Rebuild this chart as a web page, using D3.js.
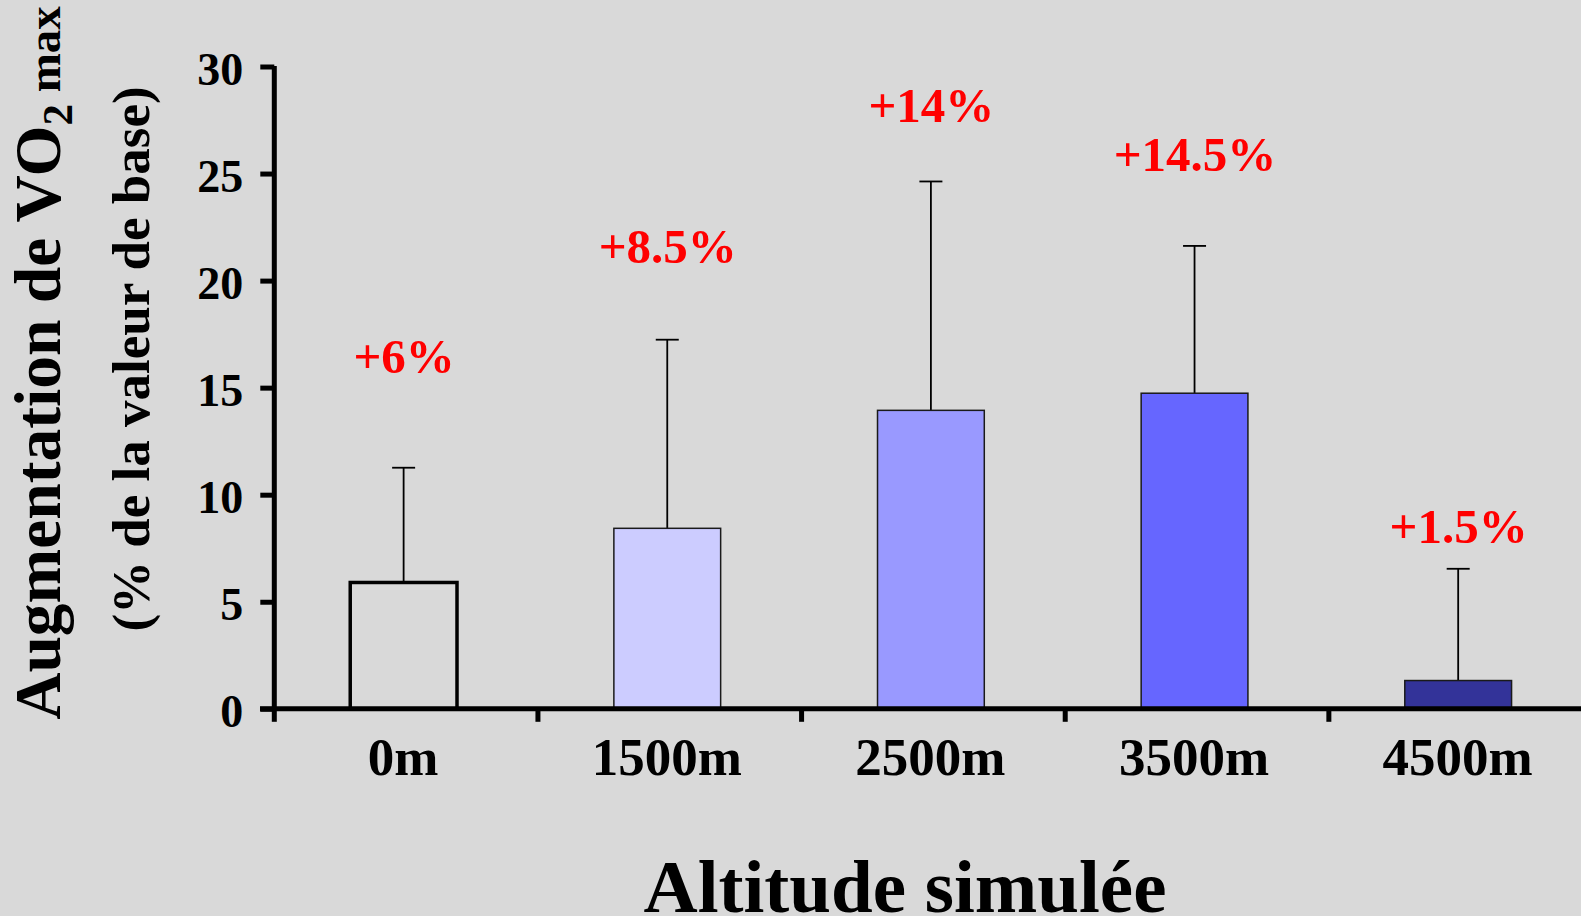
<!DOCTYPE html>
<html>
<head>
<meta charset="utf-8">
<script src="https://cdn.jsdelivr.net/npm/d3@7"></script>
<style>
  html, body { margin: 0; padding: 0; background: #d9d9d9; }
  svg { display: block; }
  text { font-family: "Liberation Serif", "Times New Roman", serif; font-weight: bold; }
</style>
</head>
<body>
<svg id="chart" width="1581" height="916"></svg>
<script>
// ---- data ----
const categories = ["0m", "1500m", "2500m", "3500m", "4500m"];
const values = [5.9, 8.43, 13.94, 14.74, 1.32];
const errors = [11.26, 17.24, 24.63, 21.62, 6.54];        // top of error bar
const labels = ["+6%", "+8.5%", "+14%", "+14.5%", "+1.5%"];
const labelLevels = [15.68, 20.82, 27.42, 25.13, 7.74];   // annotation baselines (data units)
const fills = ["none", "#ccccff", "#9999ff", "#6666ff", "#333399"];
const yTicks = [0, 5, 10, 15, 20, 25, 30];

const svg = d3.select("#chart");
svg.append("rect").attr("width", 1581).attr("height", 916).attr("fill", "#d9d9d9");

const x = d3.scaleBand().domain(categories).range([274.3, 1592.5]).paddingInner(0).paddingOuter(0);
const y = d3.scaleLinear().domain([0, 30]).range([708.8, 66.5]);
const barW = x.bandwidth() * 0.405;

// bars
const g = svg.append("g");
categories.forEach((c, i) => {
  const cx = x(c) + x.bandwidth() / 2 - 2.5;
  // error bar
  g.append("line").attr("x1", cx).attr("x2", cx)
    .attr("y1", y(values[i])).attr("y2", y(errors[i]))
    .attr("stroke", "#000").attr("stroke-width", 1.8);
  g.append("line").attr("x1", cx - 11.5).attr("x2", cx + 11.5)
    .attr("y1", y(errors[i])).attr("y2", y(errors[i]))
    .attr("stroke", "#000").attr("stroke-width", 1.8);
  const first = i === 0;
  g.append("rect")
    .attr("x", cx - barW / 2)
    .attr("y", y(values[i]))
    .attr("width", barW)
    .attr("height", y(0) - y(values[i]))
    .attr("fill", fills[i])
    .attr("stroke", first ? "#000" : "#1a1a1a")
    .attr("stroke-width", first ? 3.5 : 1.5);
  // annotation
  svg.append("text")
    .attr("x", x(c) + x.bandwidth() / 2 - 2)
    .attr("y", y(labelLevels[i]))
    .attr("text-anchor", "middle")
    .attr("fill", "#ff0000")
    .attr("font-size", 49)
    .text(labels[i]);
});

// y axis
const yAxis = d3.axisLeft(y).tickValues(yTicks).tickSize(14).tickPadding(17).tickFormat(d3.format("d"));
const ya = svg.append("g").attr("transform", "translate(274.3,0)").call(yAxis);
ya.select(".domain").attr("stroke", "#000").attr("stroke-width", 5)
  .attr("d", `M0,${y(30) - 0.5}V${y(0)}`);
ya.selectAll(".tick line").attr("stroke", "#000").attr("stroke-width", 5);
ya.selectAll(".tick text").attr("font-size", 46).attr("fill", "#000")
  .attr("font-family", "Liberation Serif").attr("dy", null).attr("y", 18);

// x axis
const xa = svg.append("g").attr("transform", `translate(0,${y(0)})`);
xa.append("line").attr("x1", 260).attr("x2", 1581).attr("y1", 0).attr("y2", 0)
  .attr("stroke", "#000").attr("stroke-width", 5);
categories.forEach((c) => {
  xa.append("line").attr("x1", x(c)).attr("x2", x(c)).attr("y1", 0).attr("y2", 13)
    .attr("stroke", "#000").attr("stroke-width", 5);
  xa.append("text").attr("x", x(c) + x.bandwidth() / 2 - 3).attr("y", 66)
    .attr("text-anchor", "middle").attr("font-size", 53).attr("fill", "#000").text(c);
});

// x title
svg.append("text").attr("x", 905).attr("y", 912).attr("text-anchor", "middle")
  .attr("font-size", 75).attr("fill", "#000").text("Altitude simulée");

// y titles
const t1 = svg.append("text").attr("transform", "translate(60,363) rotate(-90)")
  .attr("text-anchor", "middle").attr("font-size", 65.5).attr("fill", "#000");
t1.append("tspan").text("Augmentation de VO");
t1.append("tspan").attr("font-size", 43).attr("dy", 12).text("2");
t1.append("tspan").attr("font-size", 47).attr("dy", -12).text(" max");

svg.append("text").attr("transform", "translate(149,359) rotate(-90)")
  .attr("text-anchor", "middle").attr("font-size", 53).attr("fill", "#000")
  .text("(% de la valeur de base)");
</script>
</body>
</html>
